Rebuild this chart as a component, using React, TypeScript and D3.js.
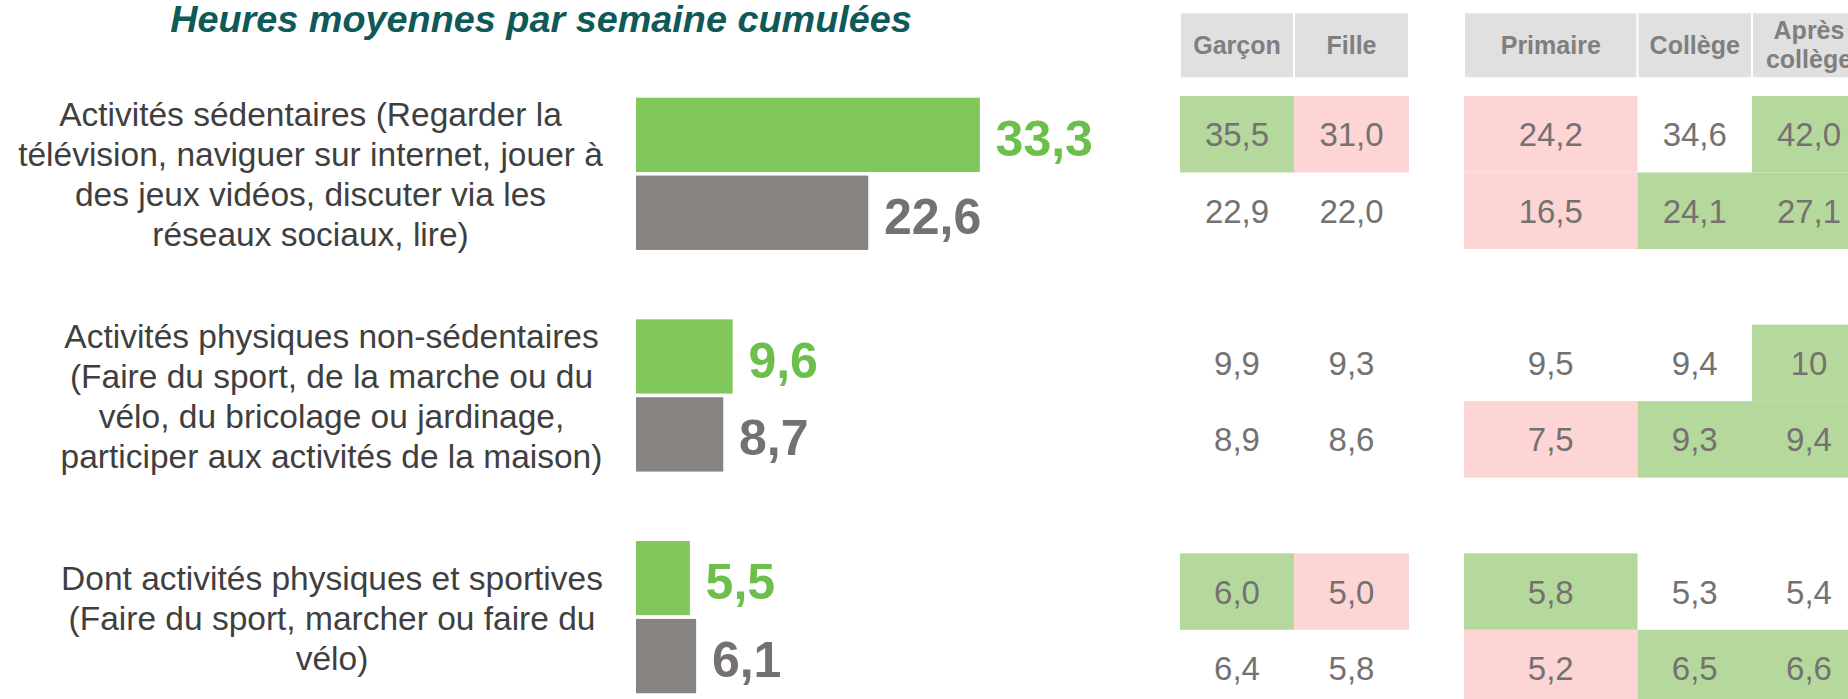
import React from "react";
import * as d3 from "d3";

// ---------- DATA ----------
const title = "Heures moyennes par semaine cumulées";
const categories = ["sedentaires", "physiques", "sportives"];
const categoryLabels = [
  [
    "Activités sédentaires (Regarder la",
    "télévision, naviguer sur internet, jouer à",
    "des jeux vidéos, discuter via les",
    "réseaux sociaux, lire)",
  ],
  [
    "Activités physiques non-sédentaires",
    "(Faire du sport, de la marche ou du",
    "vélo, du bricolage ou jardinage,",
    "participer aux activités de la maison)",
  ],
  [
    "Dont activités physiques et sportives",
    "(Faire du sport, marcher ou faire du",
    "vélo)",
  ],
];
const seriesNames = ["actuel", "reference"];
const currentValues = [33.3, 9.6, 5.5];
const referenceValues = [22.6, 8.7, 6.1];

const tableColumns = ["Garçon", "Fille", "Primaire", "Collège", "Après collège"];
const tableHeaderLines = [["Garçon"], ["Fille"], ["Primaire"], ["Collège"], ["Après", "collège"]];
const tableCurrent = [
  ["35,5", "31,0", "24,2", "34,6", "42,0"],
  ["9,9", "9,3", "9,5", "9,4", "10"],
  ["6,0", "5,0", "5,8", "5,3", "5,4"],
];
const tableReference = [
  ["22,9", "22,0", "16,5", "24,1", "27,1"],
  ["8,9", "8,6", "7,5", "9,3", "9,4"],
  ["6,4", "5,8", "5,2", "6,5", "6,6"],
];
// "up" = green, "down" = pink, "" = none
const statusCurrent = [
  ["up", "down", "down", "", "up"],
  ["", "", "", "", "up"],
  ["up", "down", "up", "", ""],
];
const statusReference = [
  ["", "", "down", "up", "up"],
  ["", "", "down", "up", "up"],
  ["", "", "down", "up", "up"],
];

// ---------- STYLE / LAYOUT ----------
const W = 1848;
const H = 699;
const FONT = "'Liberation Sans', Arial, Helvetica, sans-serif";
const GREEN = "#80c85c";
const GREEN_TEXT = "#6cbf4b";
const GREY = "#878380";
const GREY_TEXT = "#767171";
const TITLE_COLOR = "#0f5958";
const LABEL_COLOR = "#3f3f3f";
const CELL_GREEN = "#b5d99c";
const CELL_PINK = "#fdd5d5";
const HEADER_BG = "#e0e0e0";
const HEADER_TEXT = "#7f7f7f";
const TABLE_TEXT = "#767171";

const labelCenterX = [310.5, 331.5, 332];
const colEdges: [number, number][] = [
  [1180, 1294],
  [1294, 1409],
  [1464, 1637.5],
  [1637.5, 1752],
  [1752, 1866],
];

export default function App() {
  const x = d3.scaleLinear().domain([0, 33.3]).range([634.25, 981.6]);
  const yGroup = d3
    .scaleBand<string>()
    .domain(categories)
    .range([95.95, 695])
    .paddingInner(0.2975)
    .paddingOuter(0);
  const ySeries = d3
    .scaleBand<string>()
    .domain(seriesNames)
    .range([0, yGroup.bandwidth()])
    .padding(0);

  const tGroup = d3
    .scaleBand<string>()
    .domain(categories)
    .range([96, 706.3])
    .paddingInner(0.331)
    .paddingOuter(0);
  const tRow = d3
    .scaleBand<string>()
    .domain(seriesNames)
    .range([0, tGroup.bandwidth()])
    .padding(0);

  const lineH = 40;
  const cellFill = (s: string) => (s === "up" ? CELL_GREEN : s === "down" ? CELL_PINK : "none");

  return (
    <div style={{ position: "absolute", left: 0, top: 0, width: W, height: H, overflow: "hidden", background: "#fff" }}>
      <svg width={W} height={H} style={{ display: "block" }} fontFamily={FONT}>
        <rect x={0} y={0} width={W} height={H} fill="#fff" />
        <text
          x={541}
          y={32}
          textAnchor="middle"
          fontSize={37.8}
          fontWeight="bold"
          fontStyle="italic"
          fill={TITLE_COLOR}
        >
          {title}
        </text>

        {categories.map((c, i) => {
          const g0 = yGroup(c)!;
          const center = g0 + yGroup.bandwidth() / 2;
          const lines = categoryLabels[i];
          const vals = [currentValues[i], referenceValues[i]];
          return (
            <g key={c}>
              {lines.map((ln, j) => (
                <text
                  key={j}
                  x={labelCenterX[i]}
                  y={center + (j - (lines.length - 1) / 2) * lineH + 12.5}
                  textAnchor="middle"
                  fontSize={33.5}
                  fill={LABEL_COLOR}
                >
                  {ln}
                </text>
              ))}
              {seriesNames.map((s, k) => {
                const y = g0 + ySeries(s)!;
                const h = ySeries.bandwidth();
                const v = vals[k];
                return (
                  <g key={s}>
                    <rect
                      x={x(0)}
                      y={y}
                      width={x(v) - x(0)}
                      height={h}
                      fill={k === 0 ? GREEN : GREY}
                      stroke="#fff"
                      strokeWidth={3.5}
                    />
                    <text
                      x={x(v) + 14}
                      y={y + h / 2 + 21}
                      fontSize={50}
                      fontWeight="bold"
                      fill={k === 0 ? GREEN_TEXT : GREY_TEXT}
                    >
                      {d3.format(".1f")(v).replace(".", ",")}
                    </text>
                  </g>
                );
              })}
            </g>
          );
        })}

        {/* table header */}
        {tableColumns.map((col, ci) => {
          const [a, b] = colEdges[ci];
          const lines = tableHeaderLines[ci];
          const cy = 45.3;
          return (
            <g key={col}>
              <rect x={a + 1} y={13.3} width={b - a - 2} height={64} fill={HEADER_BG} />
              {lines.map((ln, j) => (
                <text
                  key={j}
                  x={(a + b) / 2}
                  y={cy + (j - (lines.length - 1) / 2) * 29 + 8.5}
                  textAnchor="middle"
                  fontSize={25}
                  fontWeight="bold"
                  fill={HEADER_TEXT}
                >
                  {ln}
                </text>
              ))}
            </g>
          );
        })}

        {/* table cells */}
        {categories.map((c, gi) => {
          const g0 = tGroup(c)!;
          const rows = [tableCurrent[gi], tableReference[gi]];
          const stats = [statusCurrent[gi], statusReference[gi]];
          return (
            <g key={c}>
              {seriesNames.map((s, ri) => {
                const y = g0 + tRow(s)!;
                const h = tRow.bandwidth();
                return (
                  <g key={s}>
                    {rows[ri].map((val, ci) => {
                      const [a, b] = colEdges[ci];
                      const f = cellFill(stats[ri][ci]);
                      return (
                        <g key={ci}>
                          {f !== "none" && <rect x={a} y={y} width={b - a} height={h} fill={f} />}
                          <text
                            x={(a + b) / 2}
                            y={y + h / 2 + 12}
                            textAnchor="middle"
                            fontSize={33}
                            fill={TABLE_TEXT}
                          >
                            {val}
                          </text>
                        </g>
                      );
                    })}
                  </g>
                );
              })}
            </g>
          );
        })}
      </svg>
    </div>
  );
}
